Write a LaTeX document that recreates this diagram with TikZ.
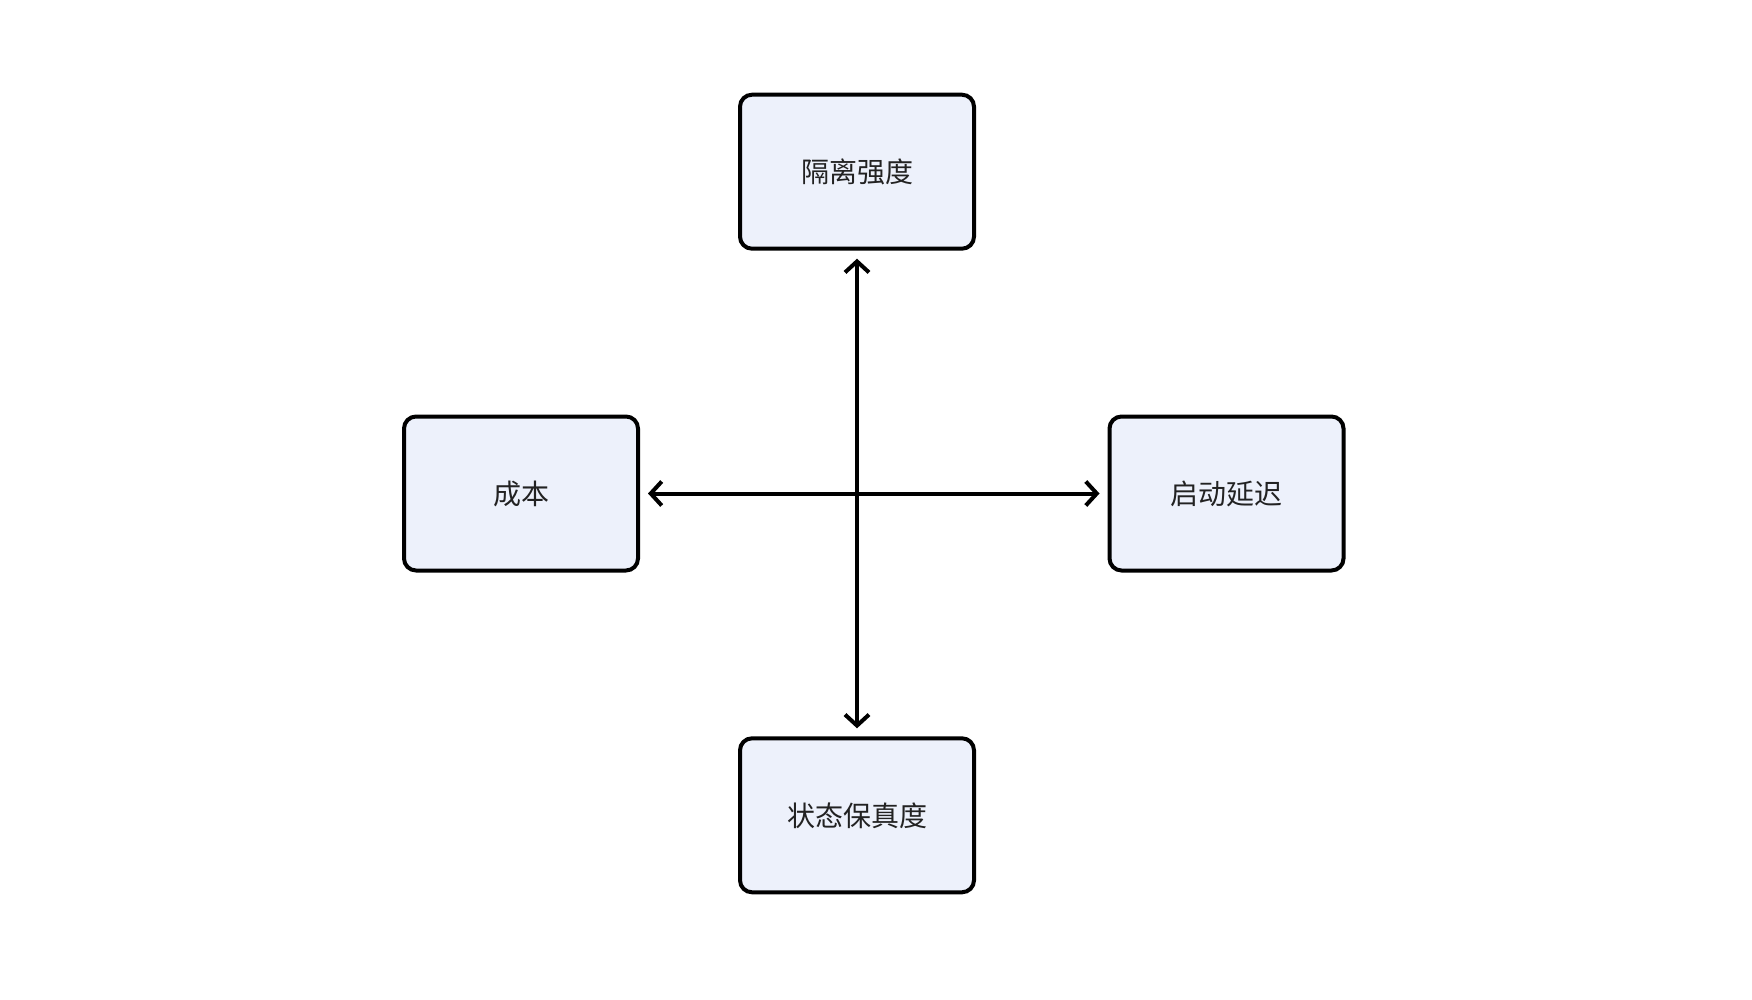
\documentclass[tikz,border=0pt]{standalone}
\usepackage{fontspec}
\newfontfamily\cjk{Noto Sans CJK SC}
\usetikzlibrary{arrows.meta}
\definecolor{boxfill}{HTML}{EDF1FB}
\definecolor{txt}{HTML}{222222}
\tikzset{
  dimbox/.style={draw=black, line width=4pt, fill=boxfill, rounded corners=12pt,
    minimum width=234pt, minimum height=154pt, inner sep=0pt,
    font=\cjk\fontsize{28pt}{31pt}\selectfont, text=txt},
  link/.style={line width=4pt, {Straight Barb[length=11pt,width=24pt,line width=4pt]}-{Straight Barb[length=11pt,width=24pt,line width=4pt]}, shorten <=8pt, shorten >=8pt}
}
\begin{document}
\begin{tikzpicture}[x=1pt,y=-1pt]
\useasboundingbox (0,0) rectangle (1752,1000);
\node[dimbox] (top) at (857,171.7) {\raisebox{-4pt}{隔离强度}};
\node[dimbox] (left) at (521,493.5) {\raisebox{-4pt}{成本}};
\node[dimbox] (right) at (1226.5,493.5) {\raisebox{-4pt}{启动延迟}};
\node[dimbox] (bot) at (857,815.3) {\raisebox{-4pt}{状态保真度}};
\draw[link] (left.east) -- (right.west);
\draw[link] (top.south) -- (bot.north);
\end{tikzpicture}
\end{document}
